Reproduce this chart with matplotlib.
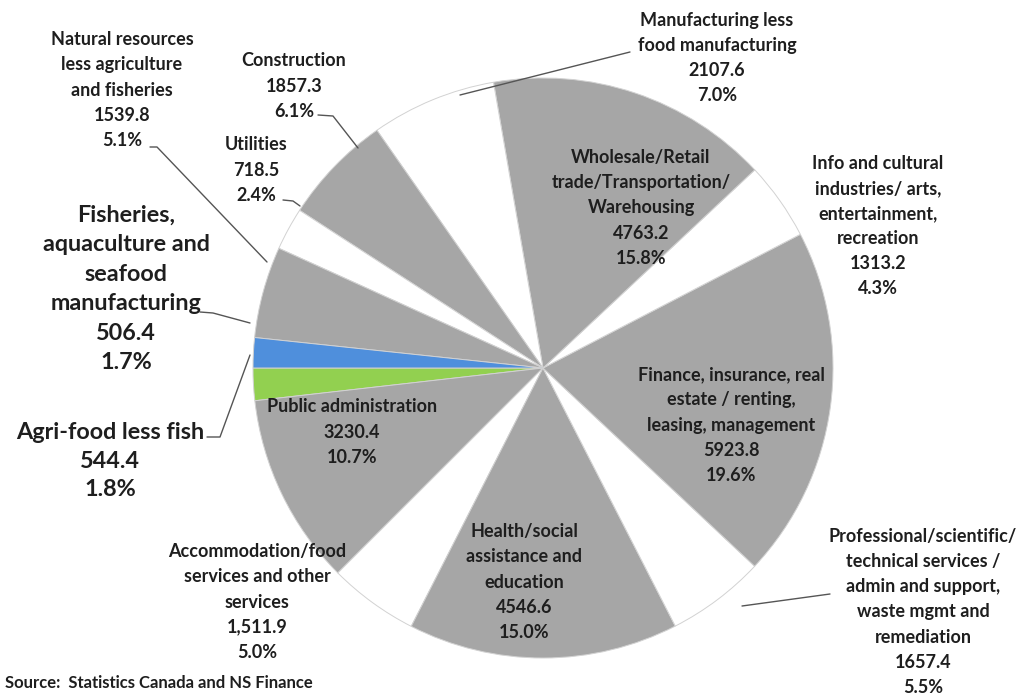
import matplotlib
matplotlib.use("Agg")
import matplotlib.pyplot as plt

# Nova Scotia GDP by industry ($ millions), counter-clockwise from 9 o'clock
categories = [
    "Agri-food less fish",
    "Public administration",
    "Accommodation/food\nservices and other\nservices",
    "Health/social\nassistance and\neducation",
    "Professional/scientific/\ntechnical services /\nadmin and support,\nwaste mgmt and\nremediation",
    "Finance, insurance, real\nestate / renting,\nleasing, management",
    "Info and cultural\nindustries/ arts,\nentertainment,\nrecreation",
    "Wholesale/Retail\ntrade/Transportation/\nWarehousing",
    "Manufacturing less\nfood manufacturing",
    "Construction",
    "Utilities",
    "Natural resources\nless agriculture\nand fisheries",
    "Fisheries,\naquaculture and\nseafood\nmanufacturing",
]
values = [544.4, 3230.4, 1511.9, 4546.6, 1657.4, 5923.8, 1313.2,
          4763.2, 2107.6, 1857.3, 718.5, 1539.8, 506.4]
value_formats = ["{:.1f}", "{:.1f}", "{:,.1f}", "{:.1f}", "{:.1f}", "{:.1f}",
                 "{:.1f}", "{:.1f}", "{:.1f}", "{:.1f}", "{:.1f}", "{:.1f}", "{:.1f}"]

GRAY, WHITE = "#a6a6a6", "#ffffff"
colors = ["#92d050", GRAY, WHITE, GRAY, WHITE, GRAY, WHITE,
          GRAY, WHITE, GRAY, WHITE, GRAY, "#4f8fdc"]

W, H = 1031, 695
fig = plt.figure(figsize=(W / 100, H / 100), dpi=100)
ax = fig.add_axes([0, 0, 1, 1])

def Y(py):
    return H - py

cx, cy, r = 543, 368, 290
ax.pie(values, colors=colors, startangle=180, counterclock=True,
       center=(cx, Y(cy)), radius=r,
       wedgeprops=dict(edgecolor="#d2d2d2", linewidth=0.7))
ax.set_xlim(0, W)
ax.set_ylim(0, H)
ax.set_aspect("equal")
ax.axis("off")

total = sum(values)
FONT = "Lato"
TXT = "#1e1e1e"

def label(i):
    pct = values[i] / total * 100
    return f"{categories[i]}\n{value_formats[i].format(values[i])}\n{pct:.1f}%"

SMALL, BIG = 13, 16.8
# label centre positions (pixels), font sizes and line spacing
layout = {
    0: (110, 461, BIG, 1.42),
    1: (352, 432, SMALL, 1.58),
    2: (257, 602, SMALL, 1.58),
    3: (524, 582, SMALL, 1.58),
    4: (923, 612, SMALL, 1.58),
    5: (731, 425, SMALL, 1.58),
    6: (878, 226, SMALL, 1.58),
    7: (641, 208, SMALL, 1.58),
    8: (717, 58, SMALL, 1.58),
    9: (294, 86, SMALL, 1.58),
    10: (256, 170, SMALL, 1.58),
    11: (122, 90, SMALL, 1.58),
    12: (126, 289, BIG, 1.5),
}
for i, (x, y, fs, ls) in layout.items():
    ax.text(x, Y(y), label(i), ha="center", va="center", fontsize=fs,
            fontweight="bold", family=FONT, color=TXT, linespacing=ls)

# leader lines
leaders = [
    [(150, 147), (157, 147), (267, 262)],
    [(283, 200), (293, 201), (300, 206)],
    [(318, 115), (333, 116), (358, 148)],
    [(630, 52), (460, 95)],
    [(200, 312), (213, 313), (250, 323)],
    [(207, 437), (220, 437), (250, 355)],
    [(830, 594), (742, 606)],
]
for pts in leaders:
    xs = [p[0] for p in pts]
    ys = [Y(p[1]) for p in pts]
    ax.plot(xs, ys, color="#555555", lw=1.0, solid_capstyle="round")

ax.text(5, Y(683), "Source:  Statistics Canada and NS Finance", ha="left",
        va="center", fontsize=12, fontweight="bold", family=FONT, color=TXT)

fig.savefig("out.png", dpi=100)
